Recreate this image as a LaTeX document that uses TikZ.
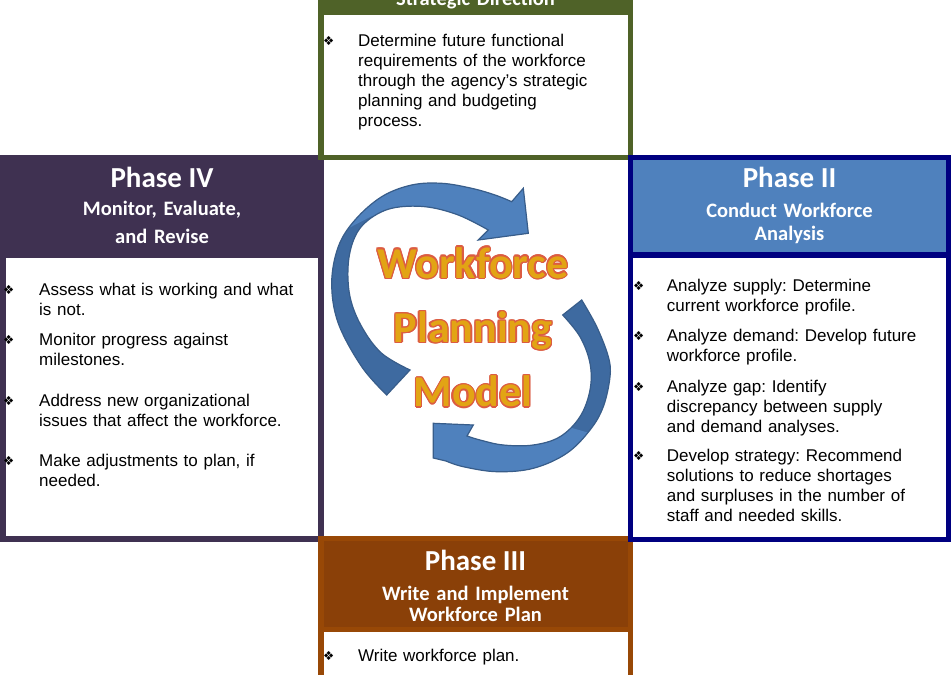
\documentclass[tikz,border=0pt]{standalone}
\usepackage{fontspec}
\setmainfont{Liberation Sans}
\newfontfamily\headfont{Carlito}
\newfontfamily\symbolfont{DejaVu Sans}
\usepackage{tikz}
\usetikzlibrary{positioning}
\frenchspacing
\definecolor{phaseonegreen}{RGB}{79,98,40}
\definecolor{phasetwonavy}{RGB}{0,0,128}
\definecolor{phasetwoblue}{RGB}{79,129,189}
\definecolor{phasethreebrown}{RGB}{152,72,6}
\definecolor{phasethreehead}{RGB}{138,64,8}
\definecolor{phasefourpurple}{RGB}{63,49,81}
\definecolor{arrowlight}{RGB}{79,129,189}
\definecolor{arrowdark}{RGB}{62,106,160}
\definecolor{arrowedge}{RGB}{56,93,138}
\definecolor{titlefill}{RGB}{226,164,20}
\definecolor{titleedge}{RGB}{220,92,66}
\tikzstyle{phasetitle}=[text=white,font={\headfont\bfseries\fontsize{29}{33}\selectfont},inner sep=0pt,anchor=base]
\tikzstyle{phasesub}=[text=white,font={\headfont\bfseries\fontsize{20.5}{22.5}\selectfont},inner sep=0pt,anchor=base,text width=310pt,align=center]
\tikzstyle{itemtext}=[font={\fontsize{17}{20}\selectfont},inner sep=0pt,anchor=base west,text width=285pt,align=left]
\tikzstyle{bulletmark}=[font={\symbolfont\fontsize{12.5}{12.5}\selectfont},inner sep=0pt,anchor=base west]
\tikzstyle{modeltitle}=[font={\headfont\bfseries\fontsize{44}{64.4}\selectfont},inner sep=0pt,anchor=base,text width=300pt,align=center]
\def\upperarrow{(386.7,395) -- plot[smooth,tension=0.6] coordinates {(386.7,395) (361.7,366.7) (338.3,323.3) (331.7,283.3) (338.3,246.7) (355,220) (381.7,196.7) (411.7,185) (441.7,183.3) (471.7,188.3) (495,195) (511.7,201.7)} -- (523.3,188.3) -- (528.3,233.3) -- (478.3,240) -- plot[smooth,tension=0.6] coordinates {(488.3,230) (458.3,215) (425,206.7) (391.7,208.3) (368.3,220) (355,236.7) (348.3,263.3) (350,296.7) (361.7,326.7) (381.7,353.3) (410,370)} -- cycle}
\def\lowerarrow{(581.7,300) -- plot[smooth,tension=0.6] coordinates {(581.7,300) (596.7,326.7) (608.3,356.7) (610,376.7) (603.3,406.7) (590,430) (566.7,453.3) (533.3,468.3) (496.7,471.7) (463.3,466.7) (446,461)} -- (433.3,458) -- (433.3,423.3) -- (473.3,425) -- plot[smooth,tension=0.6] coordinates {(467,436) (480,440) (503.3,445) (533.3,445) (560,436.7) (580,416.7) (590,390) (590,363.3) (580,336.7) (562.7,315)} -- cycle}
\begin{document}
\begin{tikzpicture}[x=1pt,y=-1pt]
\useasboundingbox (0,0) rectangle (951,675);
\fill[white] (0,0) rectangle (951,675);

% Phase IV
\fill[phasefourpurple] (0,155) rectangle (324,542);
\fill[white] (6,258) rectangle (318,536);
\node[phasetitle] (p4title) at (162,187) {Phase IV};
\node[phasesub,font={\headfont\bfseries\fontsize{20.5}{27.6}\selectfont}] (p4sub) at (162,215.7) {Monitor, Evaluate,\\and Revise};
\node[bulletmark] (p4b1) at (3,294) {❖};
\node[itemtext] (p4i1) at (39,295) {Assess what is working and what\\is not.};
\node[bulletmark] (p4b2) at (3,344) {❖};
\node[itemtext] (p4i2) at (39,345) {Monitor progress against\\milestones.};
\node[bulletmark] (p4b3) at (3,405.7) {❖};
\node[itemtext] (p4i3) at (39,406.7) {Address new organizational\\issues that affect the workforce.};
\node[bulletmark] (p4b4) at (3,465.7) {❖};
\node[itemtext] (p4i4) at (39,466.7) {Make adjustments to plan, if\\needed.};

% Phase I
\fill[phaseonegreen] (318,-10) rectangle (633,160);
\fill[white] (324,15) rectangle (628,155);
\node[phasesub] (p1sub) at (475.5,5) {Strategic Direction};
\node[bulletmark] (p1b1) at (323,45.7) {❖};
\node[itemtext] (p1i1) at (358,46.7) {Determine future functional\\requirements of the workforce\\through the agency’s strategic\\planning and budgeting\\process.};

% Phase III
\fill[phasethreebrown] (318,536) rectangle (633,685);
\fill[phasethreehead] (324,541) rectangle (628,627);
\fill[white] (324,632) rectangle (628,685);
\node[phasetitle] (p3title) at (475.5,570) {Phase III};
\node[phasesub,font={\headfont\bfseries\fontsize{20.5}{21.7}\selectfont}] (p3sub) at (475.5,600) {Write and Implement\\Workforce Plan};
\node[bulletmark] (p3b1) at (323,660.7) {❖};
\node[itemtext] (p3i1) at (358,661.7) {Write workforce plan.};

% Phase II
\fill[phasetwonavy] (628,155) rectangle (951,542);
\fill[phasetwoblue] (633,160) rectangle (946,252);
\fill[white] (633,258) rectangle (946,537);
\node[phasetitle] (p2title) at (789.5,187) {Phase II};
\node[phasesub] (p2sub) at (789.5,217.7) {Conduct Workforce\\Analysis};
\node[bulletmark] (p2b1) at (633,290.7) {❖};
\node[itemtext] (p2i1) at (666.7,291.7) {Analyze supply: Determine\\current workforce profile.};
\node[bulletmark] (p2b2) at (633,340.7) {❖};
\node[itemtext] (p2i2) at (666.7,341.7) {Analyze demand: Develop future\\workforce profile.};
\node[bulletmark] (p2b3) at (633,391.7) {❖};
\node[itemtext] (p2i3) at (666.7,392.7) {Analyze gap: Identify\\discrepancy between supply\\and demand analyses.};
\node[bulletmark] (p2b4) at (633,460.7) {❖};
\node[itemtext] (p2i4) at (666.7,461.7) {Develop strategy: Recommend\\solutions to reduce shortages\\and surpluses in the number of\\staff and needed skills.};

% cycle arrows
\fill[arrowdark] \upperarrow;
\begin{scope}
\clip (320,243) -- (372,216) -- (420,250) -- (560,250) -- (560,150) -- (320,150) -- cycle;
\fill[arrowlight] \upperarrow;
\end{scope}
\draw[arrowedge,line width=1.2] \upperarrow;
\fill[arrowdark] \lowerarrow;
\begin{scope}
\clip (400,400) -- (540,400) -- (572,428) -- (600,436) -- (620,490) -- (400,490) -- cycle;
\fill[arrowlight] \lowerarrow;
\end{scope}
\draw[arrowedge,line width=1.2] \lowerarrow;

% model title
\foreach \a in {0,30,...,330}
  \node[modeltitle,text=titleedge,shift={(\a:1.3)}] (edge\a) at (473,278) {Workforce\\Planning\\Model};
\node[modeltitle,text=titlefill] (model) at (473,278) {Workforce\\Planning\\Model};
\end{tikzpicture}
\end{document}
